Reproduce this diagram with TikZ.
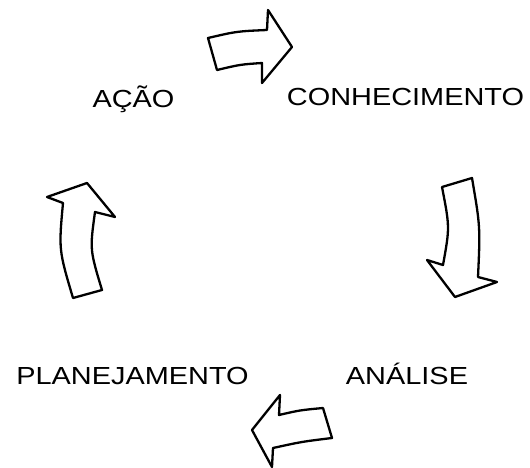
\documentclass[tikz,border=0pt]{standalone}
\usepackage{fontspec}
\setmainfont{Liberation Sans}
\begin{document}
\begin{tikzpicture}[x=1pt,y=-1pt,
  stagelabel/.style={anchor=base,inner sep=0pt,font=\fontsize{24.7}{30}\selectfont},
  cyclearrow/.style={draw=black,fill=white,line width=2.3pt,line join=round}]
\useasboundingbox (0,0) rectangle (530,468);
% stage labels
\node[stagelabel] (acao) at (133.5,108) {\scalebox{1.17}[1]{AÇÃO}};
\node[stagelabel] (conhecimento) at (405.5,106) {\scalebox{1.17}[1]{CONHECIMENTO}};
\node[stagelabel] (planejamento) at (132.5,384) {\scalebox{1.17}[1]{PLANEJAMENTO}};
\node[stagelabel] (analise) at (407,384) {\scalebox{1.17}[1]{ANÁLISE}};
% block arrows of the cycle
\draw[cyclearrow] (208,38) .. controls (236.8,31.3) .. (267,30) -- (268,10) -- (292,47)
  -- (262,83) -- (262,63) .. controls (240.2,64.5) .. (217,70) -- cycle;
\draw[cyclearrow] (442,187) -- (472,178) .. controls (480.3,226.8) .. (478,277) -- (497,282)
  -- (455,297) -- (427,260) -- (443,265) .. controls (449.8,227.3) .. cycle;
\draw[cyclearrow] (323,408) -- (332,438) .. controls (301.8,441.7) .. (273,448) -- (272,467)
  -- (252,430) -- (280,395) -- (279,415) .. controls (299.7,410.2) .. cycle;
\draw[cyclearrow] (73,298) -- (102,290) .. controls (89.8,249.7) .. (95,212) -- (115,217)
  -- (87,183) -- (47,197) -- (63,203) .. controls (58.7,249.8) .. cycle;
\end{tikzpicture}
\end{document}
